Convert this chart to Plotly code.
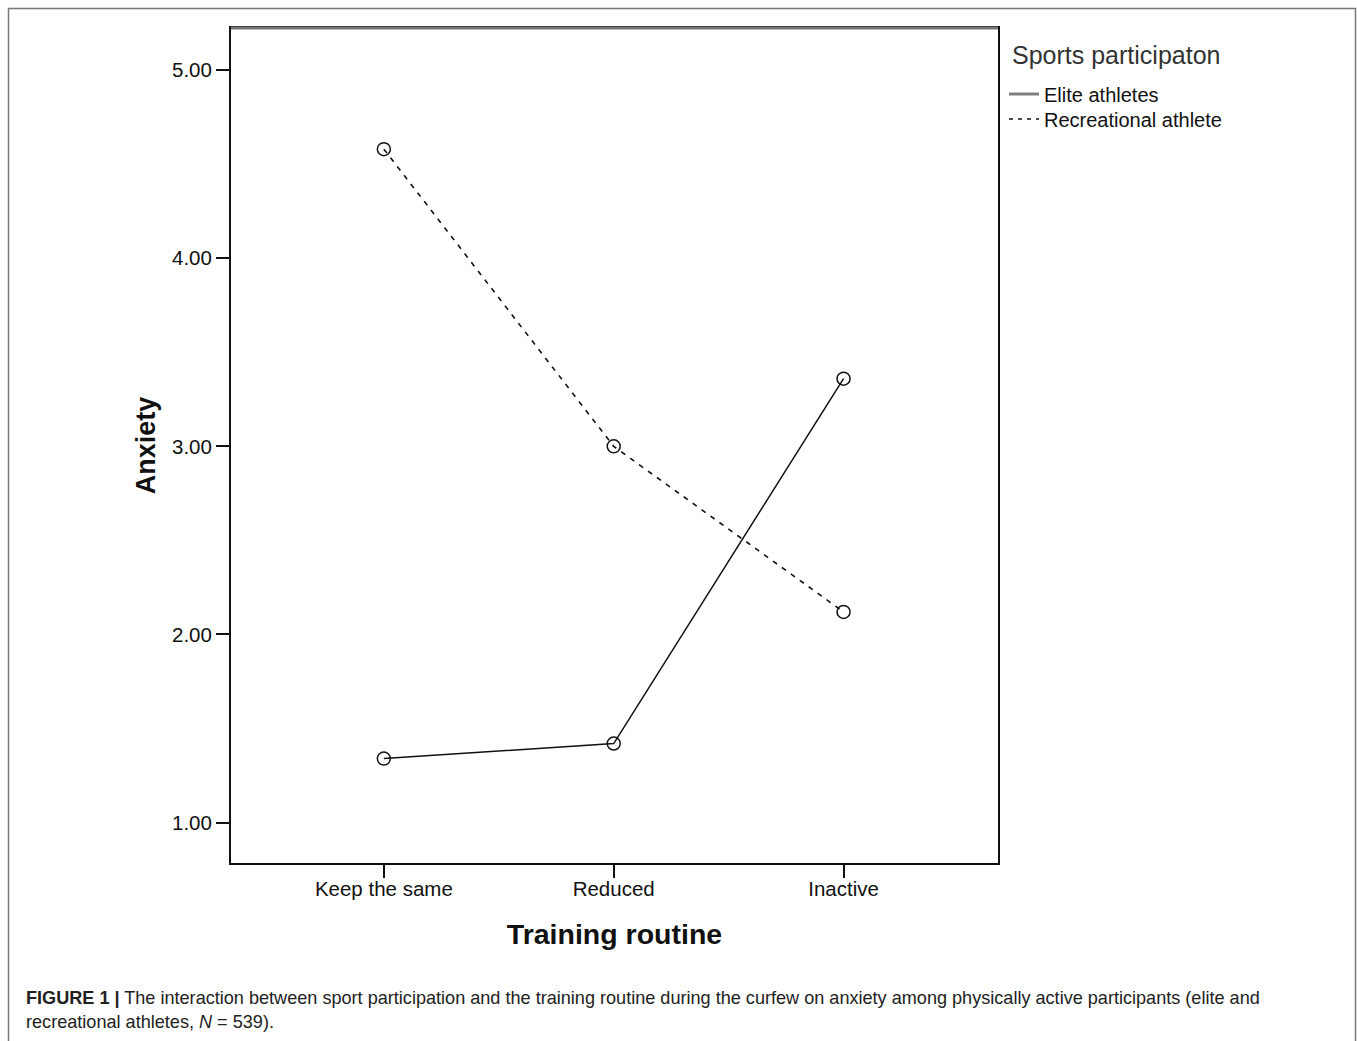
import plotly.graph_objects as go

categories = ["Keep the same", "Reduced", "Inactive"]
elite = [1.34, 1.42, 3.36]
recreational = [4.58, 3.00, 2.12]
y_ticks = [1.0, 2.0, 3.0, 4.0, 5.0]
y_tick_labels = ["1.00", "2.00", "3.00", "4.00", "5.00"]
series_names = ["Elite athletes", "Recreational athlete"]

W, H = 1357, 1041
L, R, T, B = 231, 998, 28, 863
pw = R - L
ph = B - T


def px(x):
    return (x - L) / pw


def py(y):
    return 1 - (y - T) / ph


xi = list(range(len(categories)))
FONT = "Liberation Sans, Arial, sans-serif"

fig = go.Figure()
fig.add_trace(go.Scatter(x=xi, y=elite, mode="lines+markers",
                         line=dict(color="#111111", width=1.5),
                         marker=dict(symbol="circle-open", size=13, color="#111111", line=dict(width=1.5)),
                         showlegend=False, cliponaxis=False))
fig.add_trace(go.Scatter(x=xi, y=recreational, mode="lines+markers",
                         line=dict(color="#111111", width=1.6, dash="5px,6px"),
                         marker=dict(symbol="circle-open", size=13, color="#111111", line=dict(width=1.5)),
                         showlegend=False, cliponaxis=False))
# legend entries
fig.add_trace(go.Scatter(x=[None], y=[None], mode="lines", name=series_names[0],
                         line=dict(color="#808080", width=3), legend="legend"))
fig.add_trace(go.Scatter(x=[None], y=[None], mode="lines", name=series_names[1],
                         line=dict(color="#111111", width=1.4, dash="4px,5px"), legend="legend2"))

leg_common = dict(xanchor="left", yanchor="middle", font=dict(size=20, color="#111111", family=FONT),
                  bgcolor="rgba(0,0,0,0)", itemwidth=30, borderwidth=0)

fig.update_layout(
    width=W, height=H,
    margin=dict(l=L, r=W - R, t=T, b=H - B, pad=0),
    paper_bgcolor="white", plot_bgcolor="white",
    font=dict(family=FONT, color="#111111"),
    showlegend=True,
    legend=dict(x=px(1004), y=py(94), **leg_common),
    legend2=dict(x=px(1004), y=py(119), **leg_common),
    xaxis=dict(range=[-0.665, 2.672], tickmode="array", tickvals=xi, ticktext=categories,
               ticks="outside", ticklen=13, tickwidth=2, tickcolor="#111111",
               showline=True, linecolor="#111111", linewidth=2, mirror=True,
               showgrid=False, zeroline=False, tickfont=dict(size=20.5, color="#111111"),
               ticklabelstandoff=-7,
               title=dict(text="<b>Training routine</b>", font=dict(size=28.5, color="#111111"), standoff=25)),
    yaxis=dict(range=[0.785, 5.224], tickmode="array", tickvals=y_ticks, ticktext=y_tick_labels,
               ticks="outside", ticklen=13, tickwidth=2, tickcolor="#111111",
               showline=True, linecolor="#111111", linewidth=2, mirror=True,
               showgrid=False, zeroline=False, tickfont=dict(size=20.5, color="#111111"),
               title=dict(text="<b>Anxiety</b>", font=dict(size=27, color="#111111"), standoff=9)),
)

# grey top frame line (SPSS style)
fig.add_shape(type="line", xref="paper", yref="paper", x0=0, x1=1, y0=1, y1=1,
              line=dict(color="#777777", width=3))

# legend title
fig.add_annotation(text="Sports participaton", xref="paper", yref="paper",
                   x=px(1010), y=py(55), xanchor="left", yanchor="middle",
                   showarrow=False, font=dict(size=25, color="#333333"))

# outer figure border
fig.add_shape(type="rect", xref="paper", yref="paper",
              x0=px(8.5), x1=px(1355.5), y0=py(1050), y1=py(8.5),
              line=dict(color="#777777", width=1.5), layer="below")

# caption
fig.add_annotation(
    text="<b>FIGURE 1 |</b> The interaction between sport participation and the training routine during the curfew on anxiety among physically active participants (elite and<br>recreational athletes, <i>N</i> = 539).",
    xref="paper", yref="paper", x=px(24), y=py(986), xanchor="left", yanchor="top", align="left",
    showarrow=False, font=dict(size=18.1, color="#222222", family=FONT))

fig.write_html("out.html", config={"displayModeBar": False},
               post_script="document.body.style.margin='0';document.body.style.overflow='hidden';")
